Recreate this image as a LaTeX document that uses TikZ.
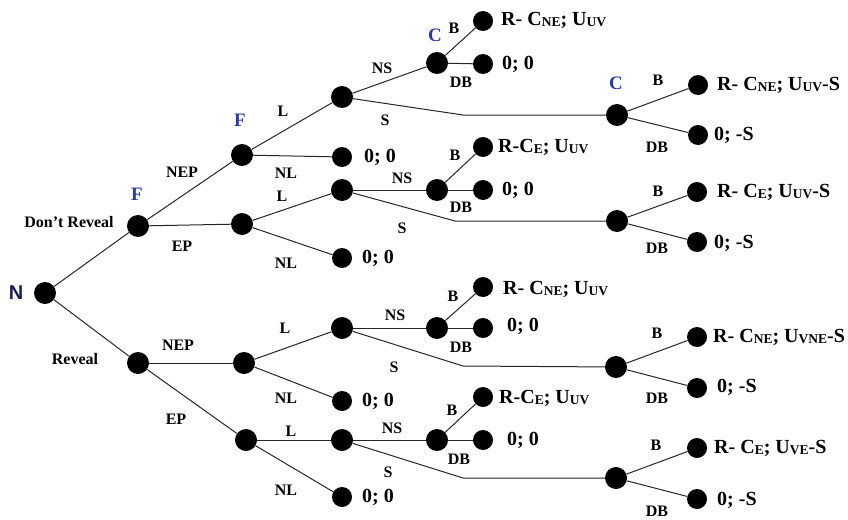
\documentclass[tikz,border=0pt]{standalone}
\usepackage{fontspec}
\setmainfont{Liberation Serif}
\newfontfamily\sansN{Liberation Sans}
\definecolor{pblue}{RGB}{40,60,165}
\definecolor{nnavy}{RGB}{25,30,85}
\newcommand{\sbs}[1]{\raisebox{-0.15ex}{\fontsize{13.5}{14}\selectfont #1}}
\begin{document}
\begin{tikzpicture}[x=1pt,y=-1pt,
  dot/.style={circle,fill=black,inner sep=0pt,minimum size=22pt},
  leaf/.style={circle,fill=black,inner sep=0pt,minimum size=20pt},
  lbl/.style={font=\fontsize{16}{18}\selectfont\bfseries,inner sep=0pt},
  pay/.style={font=\fontsize{20}{22}\selectfont\bfseries,anchor=west,inner sep=0pt},
  player/.style={font=\fontsize{19}{20}\selectfont\bfseries,text=pblue,inner sep=0pt},
  edge/.style={line width=1pt,draw=black!85}]
\useasboundingbox (0,0) rectangle (848,519);
% decision nodes
\node[dot] (N) at (45,293) {};
\node[dot] (D) at (138,226) {};
\node[dot] (R) at (138,363) {};
\node[dot] (DN) at (242,155) {};
\node[dot] (DE) at (242,224) {};
\node[dot] (RN) at (244,363) {};
\node[dot] (RE) at (246,440) {};
\node[dot] (DNL) at (342,97) {};
\node[leaf] (DNNL) at (342,157) {};
\node[dot] (DEL) at (342,190) {};
\node[leaf] (DENL) at (342,258) {};
\node[dot] (RNL) at (342,328) {};
\node[leaf] (RNNL) at (342,401) {};
\node[dot] (REL) at (342,440) {};
\node[leaf] (RENL) at (342,497) {};
\node[dot] (C1) at (437,63) {};
\node[dot] (C2) at (437,190) {};
\node[dot] (C3) at (437,328) {};
\node[dot] (C4) at (437,440) {};
\node[leaf] (C1B) at (483,21) {};
\node[leaf] (C1D) at (483,64) {};
\node[leaf] (C2B) at (483,147) {};
\node[leaf] (C2D) at (483,190) {};
\node[leaf] (C3B) at (483,287) {};
\node[leaf] (C3D) at (483,328) {};
\node[leaf] (C4B) at (483,397) {};
\node[leaf] (C4D) at (483,440) {};
\node[dot] (S1) at (617,115) {};
\node[dot] (S2) at (617,221) {};
\node[dot] (S3) at (616,367) {};
\node[dot] (S4) at (616,478) {};
\coordinate (b1) at (463,115);
\coordinate (b2) at (455,221);
\coordinate (b3) at (463,366);
\coordinate (b4) at (463,478);
\node[leaf] (S1B) at (698,85) {};
\node[leaf] (S1D) at (698,135) {};
\node[leaf] (S2B) at (697,192) {};
\node[leaf] (S2D) at (697,242) {};
\node[leaf] (S3B) at (697,337) {};
\node[leaf] (S3D) at (697,388) {};
\node[leaf] (S4B) at (697,448) {};
\node[leaf] (S4D) at (697,499) {};
% edges
\draw[edge] (N) -- (D);
\draw[edge] (N) -- (R);
\draw[edge] (D) -- (DN);
\draw[edge] (D) -- (DE);
\draw[edge] (R) -- (RN);
\draw[edge] (R) -- (RE);
\draw[edge] (DN) -- (DNL);
\draw[edge] (DN) -- (DNNL);
\draw[edge] (DE) -- (DEL);
\draw[edge] (DE) -- (DENL);
\draw[edge] (RN) -- (RNL);
\draw[edge] (RN) -- (RNNL);
\draw[edge] (RE) -- (REL);
\draw[edge] (RE) -- (RENL);
\draw[edge] (DNL) -- (C1);
\draw[edge] (DEL) -- (C2);
\draw[edge] (RNL) -- (C3);
\draw[edge] (REL) -- (C4);
\draw[edge] (DNL) -- (b1) -- (S1);
\draw[edge] (DEL) -- (b2) -- (S2);
\draw[edge] (RNL) -- (b3) -- (S3);
\draw[edge] (REL) -- (b4) -- (S4);
\foreach \c in {C1,C2,C3,C4,S1,S2,S3,S4}{
  \draw[edge] (\c) -- (\c B);
  \draw[edge] (\c) -- (\c D);
}
% players
\node[font=\sansN\fontsize{20}{22}\selectfont\bfseries,text=nnavy,inner sep=0pt] (lN) at (16,293) {N};
\node[player] (lF1) at (137,194) {F};
\node[player] (lF2) at (240,120) {F};
\node[player] (lC1) at (435,35) {C};
\node[player] (lC2) at (616,83) {C};
% action labels
\node[lbl] (a1) at (69,222) {Don't Reveal};
\node[lbl] (a2) at (75,359) {Reveal};
\node[lbl] (a3) at (182,172) {NEP};
\node[lbl] (a4) at (182,246) {EP};
\node[lbl] (a5) at (178,345) {NEP};
\node[lbl] (a6) at (176,419) {EP};
\node[lbl] (a7) at (283,111) {L};
\node[lbl] (a8) at (286,173) {NL};
\node[lbl] (a9) at (282,196) {L};
\node[lbl] (a10) at (286,263) {NL};
\node[lbl] (a11) at (285,328) {L};
\node[lbl] (a12) at (286,398) {NL};
\node[lbl] (a13) at (291,431) {L};
\node[lbl] (a14) at (286,490) {NL};
\node[lbl] (a15) at (382,68) {NS};
\node[lbl] (a16) at (385,120) {S};
\node[lbl] (a17) at (402,178) {NS};
\node[lbl] (a18) at (402,228) {S};
\node[lbl] (a19) at (395,315) {NS};
\node[lbl] (a20) at (394,367) {S};
\node[lbl] (a21) at (392,428) {NS};
\node[lbl] (a22) at (388,472) {S};
\node[lbl] (a23) at (454,28) {B};
\node[lbl] (a24) at (461,82) {DB};
\node[lbl] (a25) at (455,155) {B};
\node[lbl] (a26) at (461,207) {DB};
\node[lbl] (a27) at (453,296) {B};
\node[lbl] (a28) at (461,347) {DB};
\node[lbl] (a29) at (452,410) {B};
\node[lbl] (a30) at (459,459) {DB};
\node[lbl] (a31) at (658,80) {B};
\node[lbl] (a32) at (657,147) {DB};
\node[lbl] (a33) at (658,191) {B};
\node[lbl] (a34) at (657,248) {DB};
\node[lbl] (a35) at (657,333) {B};
\node[lbl] (a36) at (657,398) {DB};
\node[lbl] (a37) at (656,445) {B};
\node[lbl] (a38) at (657,511) {DB};
% payoffs
\node[pay] (p1) at (501,20) {R- C\sbs{NE}; U\sbs{UV}};
\node[pay] (p2) at (502,64) {0; 0};
\node[pay] (p3) at (498,147) {R-C\sbs{E}; U\sbs{UV}};
\node[pay] (p4) at (502,190) {0; 0};
\node[pay] (p5) at (503,289) {R- C\sbs{NE}; U\sbs{UV}};
\node[pay] (p6) at (507,326) {0; 0};
\node[pay] (p7) at (499,398) {R-C\sbs{E}; U\sbs{UV}};
\node[pay] (p8) at (507,440) {0; 0};
\node[pay] (p9) at (364,157) {0; 0};
\node[pay] (p10) at (362,258) {0; 0};
\node[pay] (p11) at (362,401) {0; 0};
\node[pay] (p12) at (362,497) {0; 0};
\node[pay] (p13) at (717,85) {R- C\sbs{NE}; U\sbs{UV}-S};
\node[pay] (p14) at (714,135) {0; -S};
\node[pay] (p15) at (717,192) {R- C\sbs{E}; U\sbs{UV}-S};
\node[pay] (p16) at (714,243) {0; -S};
\node[pay] (p17) at (713,337) {R- C\sbs{NE}; U\sbs{VNE}-S};
\node[pay] (p18) at (717,387) {0; -S};
\node[pay] (p19) at (714,448) {R- C\sbs{E}; U\sbs{VE}-S};
\node[pay] (p20) at (717,500) {0; -S};
\end{tikzpicture}
\end{document}
